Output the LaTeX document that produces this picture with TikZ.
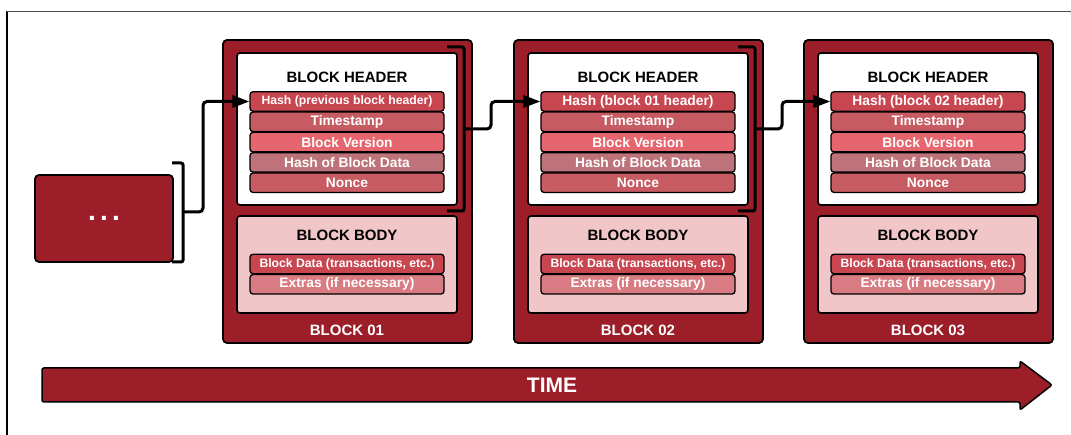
\documentclass[tikz,border=0pt]{standalone}
\usepackage{fontspec}
\setmainfont{Liberation Sans}
\usetikzlibrary{arrows.meta}

\definecolor{blockred}{RGB}{155,30,41}
\definecolor{hashred}{RGB}{200,70,80}
\definecolor{stampred}{RGB}{198,91,98}
\definecolor{versionred}{RGB}{229,102,110}
\definecolor{datared}{RGB}{189,115,121}
\definecolor{bodypink}{RGB}{240,198,200}
\definecolor{extrared}{RGB}{216,123,130}

\begin{document}
\begin{tikzpicture}[x=1pt, y=-1pt,
    blockbox/.style={draw, fill=blockred, line width=1.8pt, rounded corners=4pt, minimum width=249pt, minimum height=303pt},
    panel/.style={draw, line width=1.6pt, rounded corners=3pt, minimum width=220pt},
    cell/.style={draw, line width=1.3pt, rounded corners=3pt, minimum width=194pt, minimum height=19.5pt, inner sep=0pt, text=white, font=\fontsize{13.8}{14}\selectfont\bfseries},
    title/.style={font=\fontsize{15}{16}\selectfont\bfseries, inner sep=0pt},
    brace/.style={line width=3pt, rounded corners=2pt},
    link/.style={line width=3pt, rounded corners=4pt, -{Triangle[length=17pt, width=12pt]}}]
\useasboundingbox (0,0) rectangle (1071,435);

% frame
\draw[line width=1.2pt] (7,435) -- (7,11);
\draw[gray!60!black, line width=0.8pt] (7,11) -- (1071,11);

% earlier blocks
\node[draw, fill=blockred, line width=1.8pt, rounded corners=4pt, minimum width=138pt, minimum height=87pt, text=white, font=\fontsize{28}{30}\selectfont\bfseries] (dots) at (104,218.5) {.\kern4.2pt.\kern4.2pt.};
\draw[brace] (172,163) -- (183,163) -- (183,262) -- (172,262);
\coordinate (dotbrk) at (183,212);

\foreach \i/\bx/\prev/\fs in {1/223/previous block header/12.2, 2/514/block 01 header/13.8, 3/804/block 02 header/13.8}
{
    \node[blockbox] (block\i) at (\bx+124.5,191.5) {};
    \node[panel, fill=white, minimum height=152pt] (hdr\i) at (\bx+124,129) {};
    \node[panel, fill=bodypink, minimum height=97pt] (body\i) at (\bx+124,264.5) {};

    \node[title] (htitle\i) at (\bx+124,77) {BLOCK HEADER};
    \node[cell, fill=hashred, font=\fontsize{\fs}{14}\selectfont\bfseries] (hash\i) at (\bx+124,101.5) {Hash (\prev)};
    \foreach \r/\txt/\col in {1/Timestamp/stampred, 2/Block Version/versionred, 3/Hash of Block Data/datared, 4/Nonce/stampred}
        \node[cell, fill=\col] (row\i\r) at (\bx+124,101.5+20.3*\r) {\txt};

    \node[title] (btitle\i) at (\bx+124,235) {BLOCK BODY};
    \node[cell, fill=hashred, font=\fontsize{12.2}{14}\selectfont\bfseries] (data\i) at (\bx+124,264) {Block Data (transactions, etc.)};
    \node[cell, fill=extrared] (extra\i) at (\bx+124,284.3) {Extras (if necessary)};

    \node[title, text=white] (bname\i) at (\bx+124,330) {BLOCK 0\i};
}

% header braces
\foreach \i/\bx in {1/223, 2/514}
{
    \draw[brace] (\bx+224,47) -- (\bx+241,47) -- (\bx+241,211) -- (\bx+224,211);
    \coordinate (brk\i) at (\bx+241,129);
}

% links
\draw[link] (dotbrk) -- ++(20,0) |- (hash1.west);
\foreach \i/\j in {1/2, 2/3}
    \draw[link] (brk\i) -- ++(27,0) |- (hash\j.west);

% time
\draw[fill=blockred, line width=1.5pt, rounded corners=2pt] (42,368) -- (1020,368) -- (1020,361) -- (1052,385) -- (1020,410) -- (1020,402) -- (42,402) -- cycle;
\node[text=white, font=\fontsize{21}{22}\selectfont\bfseries] (time) at (552,385) {TIME};
\end{tikzpicture}
\end{document}
